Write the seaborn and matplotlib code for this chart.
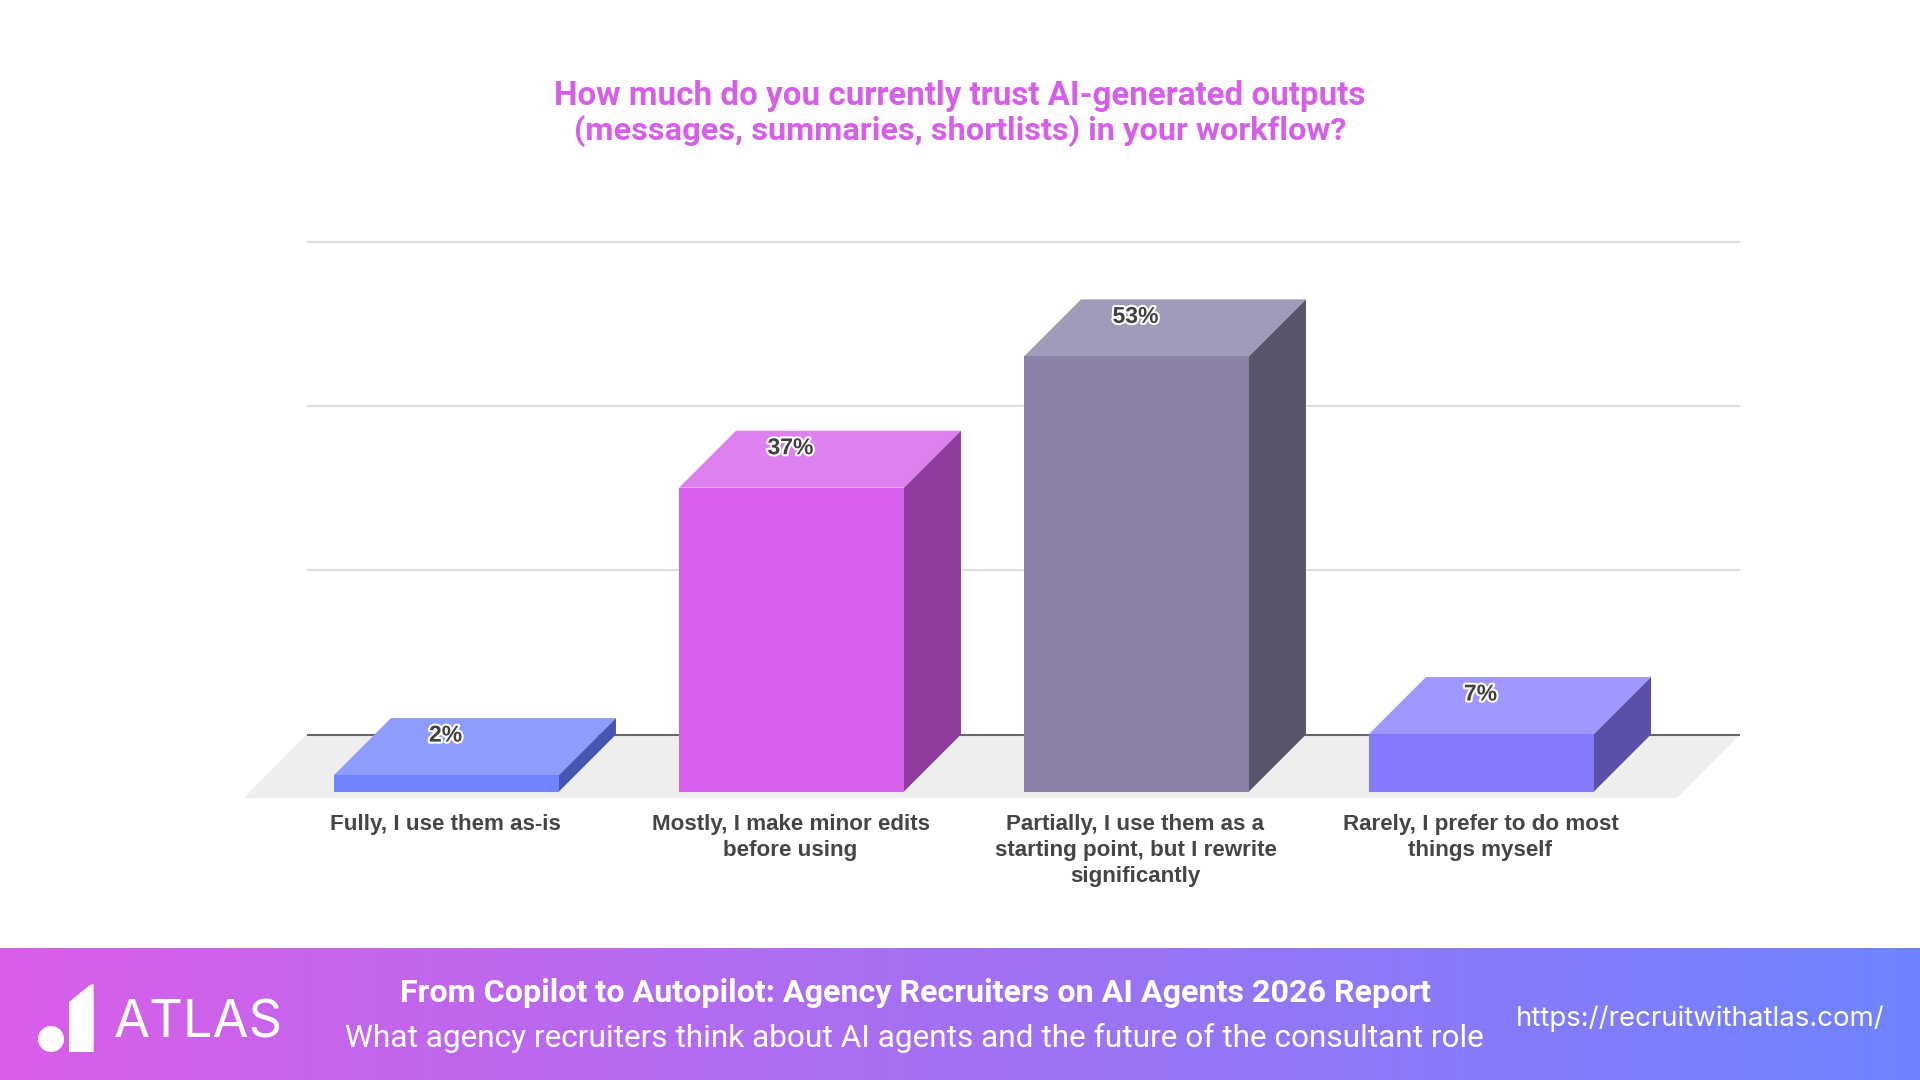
import numpy as np
import pandas as pd
import matplotlib
matplotlib.use("Agg")
import matplotlib.pyplot as plt
import matplotlib.patheffects as pe
from matplotlib.patches import Polygon, Circle
from matplotlib.transforms import ScaledTranslation
import seaborn as sns

# Survey responses
categories = [
    "Fully, I use them as-is",
    "Mostly, I make minor edits\nbefore using",
    "Partially, I use them as a\nstarting point, but I rewrite\nsignificantly",
    "Rarely, I prefer to do most\nthings myself",
]
shares = [2, 37, 53, 7]
grid_levels = [0, 20, 40, 60]

front_colors = ["#7083FF", "#D660EB", "#8980A4", "#8579FB"]
top_colors = ["#8E9BFF", "#DF80F0", "#A09AB9", "#A096FF"]
side_colors = ["#4655B0", "#8E3D9E", "#5A546B", "#5B50A8"]

title_lines = [
    "How much do you currently trust AI-generated outputs",
    "(messages, summaries, shortlists) in your workflow?",
]
report_title = "From Copilot to Autopilot: Agency Recruiters on AI Agents 2026 Report"
report_sub = "What agency recruiters think about AI agents and the future of the consultant role"
report_url = "https://recruitwithatlas.com/"

W, H = 1920, 1080
sns.set_theme(style="white")
plt.rcParams["font.family"] = ["Liberation Sans", "DejaVu Sans"]

fig = plt.figure(figsize=(W / 100, H / 100), dpi=100, facecolor="white")

# Plot area in pixel terms; bars are spaced 345 px, one percent is 8.21 px
AX_L, AX_R, AX_T, AX_B = 244, 1740, 200, 800
X0_PX, STEP_PX = 446.5, 345.0
Y0_PX, PCT_PX = 791.5, 8.21
DEPTH_PX = 57.0

ax = fig.add_axes([AX_L / W, 1 - AX_B / H, (AX_R - AX_L) / W, (AX_B - AX_T) / H])
ax.set_facecolor("none")

df = pd.DataFrame({"response": categories, "share": shares})
sns.barplot(
    data=df, x="response", y="share", hue="response", hue_order=categories,
    palette=front_colors, saturation=1, width=0.652, legend=False,
    edgecolor="none", linewidth=0, ax=ax, zorder=5,
)
ax.set_xlim((AX_L - X0_PX) / STEP_PX, (AX_R - X0_PX) / STEP_PX)
ax.set_ylim((Y0_PX - AX_B) / PCT_PX, (Y0_PX - AX_T) / PCT_PX)
ax.set_xlabel("")
ax.set_ylabel("")
ax.set_yticks([])
sns.despine(ax=ax, left=True, bottom=True, top=True, right=True)
ax.tick_params(axis="x", length=0, pad=10)
nudge = ScaledTranslation(-1 / 100, 0, fig.dpi_scale_trans)
for lab in ax.get_xticklabels():
    lab.set_fontsize(16.1)
    lab.set_fontweight("bold")
    lab.set_color("#454545")
    lab.set_linespacing(1.32)
    lab.set_family(["Liberation Sans"])
    lab.set_transform(lab.get_transform() + nudge)

dx = DEPTH_PX / STEP_PX
dy = DEPTH_PX / PCT_PX

# Floor parallelogram
x_left, x_right = ax.get_xlim()
floor_bottom = (Y0_PX - 798) / PCT_PX
back_left = (306.5 - X0_PX) / STEP_PX
back_right = x_right
ax.add_patch(Polygon(
    [(x_left, floor_bottom), (x_left + (1677 - AX_L) / STEP_PX, floor_bottom),
     (back_right, dy), (back_left, dy)],
    closed=True, facecolor="#EEEEEE", edgecolor="none", zorder=1,
))

# Gridlines sit on the back wall
for level in grid_levels:
    ax.hlines(level + dy, back_left, back_right,
              color="#686868" if level == 0 else "#DEDEDE",
              linewidth=1.5, zorder=2)

# Extrude each bar to get its top and right faces, then label it
bars = [b for c in ax.containers for b in c]
for bar, value, tc, sc in zip(bars, shares, top_colors, side_colors):
    x0 = bar.get_x()
    x1 = x0 + bar.get_width()
    ax.add_patch(Polygon([(x0, value), (x1, value), (x1 + dx, value + dy), (x0 + dx, value + dy)],
                         closed=True, facecolor=tc, edgecolor="none", zorder=4))
    ax.add_patch(Polygon([(x1, 0), (x1 + dx, dy), (x1 + dx, value + dy), (x1, value)],
                         closed=True, facecolor=sc, edgecolor="none", zorder=4))
    ax.text((x0 + x1) / 2 - 1 / STEP_PX, value + 40 / PCT_PX, f"{value}%",
            ha="center", va="center", fontsize=16.5, fontweight="bold", color="#404040",
            zorder=7, path_effects=[pe.withStroke(linewidth=3, foreground="white")])


def fit_width(text, width_px):
    """Scale a text's font size until it spans the given pixel width."""
    renderer = fig.canvas.get_renderer()
    text.set_fontsize(text.get_fontsize() * width_px / text.get_window_extent(renderer).width)


HEAD_FONT = ["Roboto", "DejaVu Sans"]
PINK = "#D65FEA"
for line, y_px, width in zip(title_lines, [95.5, 131], [811, 772]):
    t = fig.text(960 / W, 1 - y_px / H, line, ha="center", va="center", color=PINK,
                 fontsize=24, fontweight="bold", family=HEAD_FONT)
    fit_width(t, width)

# Footer banner with a left-to-right gradient
BAN_T = 948
ban = fig.add_axes([0, 0, 1, (H - BAN_T) / H])
ban.set_axis_off()
gradient = np.linspace(0, 1, 512).reshape(1, -1, 1)
start, end = np.array([0xD9, 0x5E, 0xE8]) / 255, np.array([0x6F, 0x83, 0xFF]) / 255
ban.imshow(start + (end - start) * gradient, aspect="auto", extent=(0, W, H, BAN_T), zorder=0)
ban.set_xlim(0, W)
ban.set_ylim(H, BAN_T)

# Logo mark
ban.add_patch(Circle((51, 1039), 13, facecolor="white", edgecolor="none", zorder=2))
ban.add_patch(Polygon([(69, 1052), (69, 1002), (90, 985), (93.7, 984), (93.7, 1052)],
                      closed=True, facecolor="white", edgecolor="none", zorder=2))

t = ban.text(114, 1037, "ATLAS", ha="left", va="baseline", color="white", fontsize=38,
             family=["Inter", "DejaVu Sans"])
fit_width(t, 169)
t = ban.text(915, 993.5, report_title, ha="center", va="center", color="white",
             fontsize=22, fontweight="bold", family=HEAD_FONT)
fit_width(t, 1030)
t = ban.text(914.5, 1038, report_sub, ha="center", va="center", color="white",
             fontsize=22, family=HEAD_FONT, fontweight="normal")
fit_width(t, 1141)
t = ban.text(1700.5, 1019, report_url, ha="center", va="center", color="white",
             fontsize=20, family=["Inter", "DejaVu Sans"], fontweight="normal")
fit_width(t, 369)

fig.savefig("out.png", dpi=100, facecolor="white")
